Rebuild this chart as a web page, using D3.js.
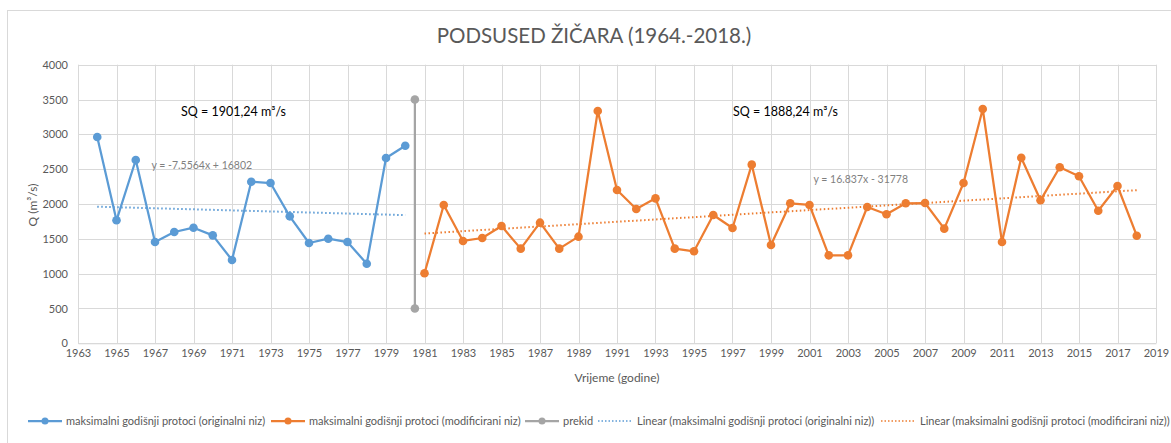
<!DOCTYPE html>
<html><head><meta charset="utf-8">
<script src="https://cdn.jsdelivr.net/npm/d3@7"></script>
<style>
html,body{margin:0;padding:0;background:#fff;}
svg{display:block;font-family:Lato,"Open Sans",sans-serif;}
</style></head>
<body>
<svg id="chart" width="1171" height="443"></svg>
<script>
const title = "PODSUSED ŽIČARA (1964.-2018.)";
const yearsOrig = [1964,1965,1966,1967,1968,1969,1970,1971,1972,1973,1974,1975,1976,1977,1978,1979,1980];
const valuesOrig = [2962,1766,2632,1454,1598,1660,1550,1196,2320,2301,1823,1440,1502,1454,1143,2660,2837];
const yearsMod = [1981,1982,1983,1984,1985,1986,1987,1988,1989,1990,1991,1992,1993,1994,1995,1996,1997,1998,1999,2000,2001,2002,2003,2004,2005,2006,2007,2008,2009,2010,2011,2012,2013,2014,2015,2016,2017,2018];
const valuesMod = [1005,1986,1469,1512,1684,1359,1732,1359,1531,3335,2201,1928,2081,1359,1321,1842,1655,2565,1411,2010,1986,1263,1263,1957,1852,2010,2014,1646,2301,3364,1454,2665,2053,2527,2398,1904,2258,1545];
const breakYears = [1980.5, 1980.5];
const breakValues = [500, 3500];
const trendOrig = {slope: -7.5564, intercept: 16802, label: "y = -7.5564x + 16802"};
const trendMod = {slope: 16.837, intercept: -31778, label: "y = 16.837x - 31778"};
const sqLabels = ["SQ = 1901,24 m³/s", "SQ = 1888,24 m³/s"];
const xTicks = d3.range(1963, 2020, 2);
const yTicks = [0,500,1000,1500,2000,2500,3000,3500,4000];
const legendLabels = [
  "maksimalni godišnji protoci (originalni niz)",
  "maksimalni godišnji protoci (modificirani niz)",
  "prekid",
  "Linear (maksimalni godišnji protoci (originalni niz))",
  "Linear (maksimalni godišnji protoci (modificirani niz))"
];
const xTitle = "Vrijeme (godine)";
const yTitle = "Q (m³/s)";

const BLUE = "#5B9BD5", ORANGE = "#ED7D31", GRAY = "#A5A5A5", TXT = "#595959", GRID = "#d9d9d9";

const svg = d3.select("#chart");
svg.append("rect").attr("x",7.5).attr("y",10.5).attr("width",1180).attr("height",450)
  .attr("fill","#fff").attr("stroke","#d9d9d9");

const x = d3.scaleLinear().domain([1963, 2019]).range([78, 1156]);
const y = d3.scaleLinear().domain([0, 4000]).range([343.3, 64.7]);

// grid
const g = svg.append("g");
g.selectAll(".vg").data(xTicks).join("line")
  .attr("x1", d => Math.round(x(d))+0.5).attr("x2", d => Math.round(x(d))+0.5)
  .attr("y1", y(4000)).attr("y2", y(0)).attr("stroke", GRID).attr("stroke-width",1);
g.selectAll(".hg").data(yTicks).join("line")
  .attr("x1", x(1963)).attr("x2", x(2019))
  .attr("y1", d => Math.round(y(d))+0.5).attr("y2", d => Math.round(y(d))+0.5)
  .attr("stroke", GRID).attr("stroke-width",1);

// axes
const xAxis = d3.axisBottom(x).tickValues(xTicks).tickFormat(d3.format("d")).tickSize(0).tickPadding(6);
const xa = svg.append("g").attr("transform", `translate(0,${y(0)})`).call(xAxis);
xa.select(".domain").attr("stroke", GRID);
xa.selectAll("text").attr("fill", TXT).attr("font-size", 11).attr("font-family","Lato");

const yAxis = d3.axisLeft(y).tickValues(yTicks).tickFormat(d3.format("d")).tickSize(0).tickPadding(10);
const ya = svg.append("g").attr("transform", `translate(${x(1963)},0)`).call(yAxis);
ya.select(".domain").remove();
ya.selectAll("text").attr("fill", TXT).attr("font-size", 11).attr("font-family","Lato");

// titles
svg.append("text").attr("x", 594).attr("y", 43).attr("text-anchor","middle")
  .attr("font-size", 20.5).attr("fill", TXT).text(title);
svg.append("text").attr("x", 617).attr("y", 382).attr("text-anchor","middle")
  .attr("font-size", 12).attr("fill", TXT).text(xTitle);
svg.append("text").attr("transform","translate(37,205) rotate(-90)").attr("text-anchor","middle")
  .attr("font-size", 12).attr("fill", TXT).text(yTitle);

// trend lines
function trendLine(years, tr, color){
  const pts = [years[0], years[years.length-1]].map(t => [t, tr.slope*t + tr.intercept]);
  svg.append("path").attr("d", d3.line().x(d=>x(d[0])).y(d=>y(d[1]))(pts))
    .attr("stroke", color).attr("stroke-width", 2).attr("stroke-dasharray","1.5,2.5").attr("fill","none");
}
trendLine(yearsOrig, trendOrig, BLUE);
trendLine(yearsMod, trendMod, ORANGE);

// series
function series(xs, vs, color){
  const data = xs.map((t,i)=>[t, vs[i]]);
  svg.append("path").attr("d", d3.line().x(d=>x(d[0])).y(d=>y(d[1]))(data))
    .attr("stroke", color).attr("stroke-width", 2.25).attr("fill","none").attr("stroke-linejoin","round");
  svg.append("g").selectAll("circle").data(data).join("circle")
    .attr("cx", d=>x(d[0])).attr("cy", d=>y(d[1])).attr("r", 4.3).attr("fill", color);
}
series(breakYears, breakValues, GRAY);
series(yearsOrig, valuesOrig, BLUE);
series(yearsMod, valuesMod, ORANGE);

// annotations
svg.append("text").attr("x", 233.5).attr("y", 115.5).attr("text-anchor","middle")
  .attr("font-size", 12.5).attr("fill", "#000").text(sqLabels[0]);
svg.append("text").attr("x", 785.5).attr("y", 115.5).attr("text-anchor","middle")
  .attr("font-size", 12.5).attr("fill", "#000").text(sqLabels[1]);
svg.append("text").attr("x", 151.5).attr("y", 168.5)
  .attr("font-size", 10.5).attr("fill", "#7f7f7f").text(trendOrig.label);
svg.append("text").attr("x", 813.5).attr("y", 183)
  .attr("font-size", 10.5).attr("fill", "#7f7f7f").text(trendMod.label);

// legend
const legY = 421;
const legItems = [
  {x1:28, x2:62, tx:66, color:BLUE, marker:true, dash:null},
  {x1:271, x2:305, tx:309, color:ORANGE, marker:true, dash:null},
  {x1:525, x2:559, tx:563, color:GRAY, marker:true, dash:null},
  {x1:598, x2:632, tx:637, color:BLUE, marker:false, dash:"1.5,2"},
  {x1:881, x2:915, tx:920, color:ORANGE, marker:false, dash:"1.5,2"}
];
const lg = svg.append("g");
legItems.forEach((it,i)=>{
  lg.append("line").attr("x1",it.x1).attr("x2",it.x2).attr("y1",legY).attr("y2",legY)
    .attr("stroke",it.color).attr("stroke-width", it.marker?2.25:1.5).attr("stroke-dasharray", it.dash);
  if(it.marker) lg.append("circle").attr("cx",(it.x1+it.x2)/2).attr("cy",legY).attr("r",3.5).attr("fill",it.color);
  lg.append("text").attr("x",it.tx).attr("y",legY+4).attr("font-size",11).attr("fill",TXT).text(legendLabels[i]);
});
</script>
</body></html>
